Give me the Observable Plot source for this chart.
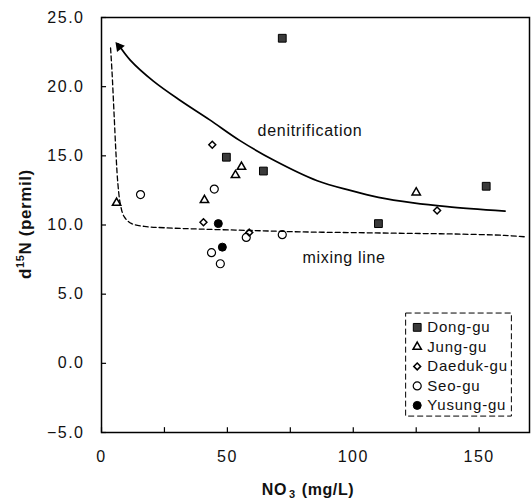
<!DOCTYPE html>
<html><head><meta charset="utf-8">
<script src="https://cdn.jsdelivr.net/npm/d3@7"></script>
<script src="https://cdn.jsdelivr.net/npm/@observablehq/plot@0.6"></script>
<style>
body{margin:0;background:#fff}
#chart svg{display:block}
g[aria-label="y-axis tick label"] text, g[aria-label="x-axis tick label"] text{letter-spacing:1.5px}
.ann{letter-spacing:0.7px}
.leg{letter-spacing:0.8px}
</style>
</head><body><div id="chart"></div>
<script>
// ---- data ----
const xTicks = [0, 50, 100, 150];
const xMinorTicks = [0, 25, 50, 75, 100, 125, 150];
const yTicks = [-5, 0, 5, 10, 15, 20, 25];

const seriesNames = ["Dong-gu", "Jung-gu", "Daeduk-gu", "Seo-gu", "Yusung-gu"];

const dongX = [71.8, 49.6, 64.3, 110, 152.8];
const dongY = [23.5, 14.9, 13.9, 10.1, 12.8];
const jungX = [6, 40.9, 53.2, 55.6, 125];
const jungY = [11.6, 11.8, 13.6, 14.2, 12.35];
const daedukX = [44, 40.5, 58.7, 133.3];
const daedukY = [15.8, 10.2, 9.45, 11.05];
const seoX = [15.5, 44.8, 57.5, 71.8, 43.7, 47.2];
const seoY = [12.2, 12.6, 9.1, 9.3, 8.0, 7.2];
const yusungX = [46.4, 48.0];
const yusungY = [10.1, 8.4];

// denitrification curve (solid, arrow at upper-left end)
const denX = [6.5, 11.5, 20.6, 31.3, 43, 55, 68.3, 85.7, 98.8, 110, 123.8, 137.3, 160.3];
const denY = [23.1, 21.9, 20.4, 19.0, 17.6, 16.1, 14.7, 13.2, 12.5, 12.0, 11.6, 11.33, 11.0];
// mixing line (dashed)
const mixX = [3.6, 4.2, 5.0, 5.8, 6.5, 7.5, 9, 12, 17, 25, 40, 60, 80, 100, 120, 140, 160, 168];
const mixY = [22.8, 21, 18, 15, 13, 11.5, 10.6, 10.1, 9.9, 9.8, 9.7, 9.6, 9.5, 9.45, 9.4, 9.35, 9.25, 9.15];
// arrowhead anchor at start of denitrification curve
const arrowX = [7.0];
const arrowY = [22.9];

const annotations = ["denitrification", "mixing line"];
const annX = [62, 79.8];
const annY = [16.8, 7.6];

// ---- build tables ----
const zip = (xs, ys) => xs.map((x, i) => ({x, y: ys[i]}));
const dong = zip(dongX, dongY), jung = zip(jungX, jungY), daeduk = zip(daedukX, daedukY),
      seo = zip(seoX, seoY), yusung = zip(yusungX, yusungY);
const den = zip(denX, denY), mix = zip(mixX, mixY);
const ann = annotations.map((t, i) => ({t, x: annX[i], y: annY[i]}));

const styles = {
  "Dong-gu":   {symbol: "square",   r: 4.4, fill: "#3a3a3a", stroke: "#000", sw: 1},
  "Jung-gu":   {symbol: "triangle", r: 3.1, fill: "none", stroke: "#000", sw: 1.5},
  "Daeduk-gu": {symbol: "diamond2", r: 3.1, fill: "none", stroke: "#000", sw: 1.5},
  "Seo-gu":    {symbol: "circle",   r: 4.0, fill: "none", stroke: "#000", sw: 1.2},
  "Yusung-gu": {symbol: "circle",   r: 4.0, fill: "#000", stroke: "#000", sw: 1}
};
const dotMark = (data, name, extra = {}) => {
  const s = styles[name];
  return Plot.dot(data, {x: "x", y: "y", symbol: () => s.symbol, r: s.r, fill: s.fill, stroke: s.stroke, strokeWidth: s.sw, ...extra});
};

// legend layout (computed in data space)
const legX0 = 121, legX1 = 163, legTop = 3.6, legBot = -3.85;
const legStep = 1.41, legFirst = 2.6;
const legend = seriesNames.map((n, i) => ({n, x: 125.4, tx: 129.4, y: legFirst - i * legStep}));

const chart = Plot.plot({
  width: 531, height: 503,
  marginLeft: 101, marginRight: 2, marginTop: 17, marginBottom: 71,
  x: {domain: [0, 170]},
  y: {domain: [-5, 25]},
  style: {fontFamily: "'Liberation Sans', Arial, sans-serif", fontSize: "16px", color: "#111", background: "#fff", overflow: "visible"},
  marks: [
    Plot.axisX({ticks: xTicks, tickSize: 0, tickPadding: 18, label: null, tickFormat: d => String(d)}),
    Plot.axisY({ticks: yTicks, tickSize: 0, tickPadding: 17, label: null, tickFormat: d3.format(".1f")}),
    Plot.ruleX(xMinorTicks, {x: d => d, y1: -5, y2: -4.65, stroke: "#000", strokeWidth: 1.2}),
    Plot.ruleY(yTicks, {y: d => d, x1: 0, x2: 2, stroke: "#000", strokeWidth: 1.2}),
    Plot.line(mix, {x: "x", y: "y", curve: "catmull-rom", stroke: "#000", strokeWidth: 1.3, strokeDasharray: "5,3"}),
    Plot.line(den, {x: "x", y: "y", curve: "catmull-rom", stroke: "#000", strokeWidth: 1.7}),
    Plot.dot(zip(arrowX, arrowY), {x: "x", y: "y", symbol: "triangle2", r: 4.8, fill: "#000", rotate: -39}),
    dotMark(dong, "Dong-gu"),
    dotMark(jung, "Jung-gu"),
    dotMark(daeduk, "Daeduk-gu"),
    dotMark(seo, "Seo-gu"),
    dotMark(yusung, "Yusung-gu"),
    Plot.text(ann, {x: "x", y: "y", text: "t", textAnchor: "start", fontSize: 16, fill: "#111", className: "ann"}),
    // legend
    Plot.rect([{}], {x1: legX0, x2: legX1, y1: legBot, y2: legTop, fill: "#fff", stroke: "#000", strokeWidth: 1, strokeDasharray: "6,3"}),
    ...seriesNames.map((n, i) => dotMark([legend[i]], n)),
    Plot.text(legend, {x: "tx", y: "y", text: "n", textAnchor: "start", fontSize: 15, fill: "#111", className: "leg"}),
    Plot.frame({stroke: "#000", strokeWidth: 1.5})
  ]
});

// axis titles with sub/superscripts
const svg = d3.select(chart);
const yt = svg.append("text")
  .attr("transform", "translate(31,224) rotate(-90)")
  .attr("text-anchor", "middle")
  .attr("font-size", 17).attr("font-weight", "bold").attr("fill", "#111")
  .style("letter-spacing", "0.6px");
yt.append("tspan").text("d");
yt.append("tspan").attr("font-size", 11).attr("dy", -7).text("15");
yt.append("tspan").attr("dy", 7).text("N (permil)");

const xt = svg.append("text")
  .attr("x", 308).attr("y", 495)
  .attr("text-anchor", "middle")
  .attr("font-size", 16).attr("font-weight", "bold").attr("fill", "#111")
  .style("letter-spacing", "0.6px");
xt.append("tspan").text("NO");
xt.append("tspan").attr("font-size", 11).attr("dy", 3).attr("dx", 2).text("3");
xt.append("tspan").attr("dy", -3).attr("dx", 6).text("(mg/L)");

document.getElementById("chart").append(chart);
</script>
</body></html>
